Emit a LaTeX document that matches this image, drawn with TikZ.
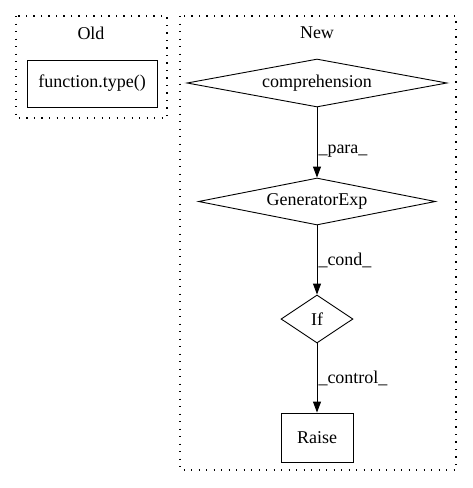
\documentclass[tikz,border=0pt]{standalone}
\usepackage{fontspec}
\setmainfont{Liberation Serif}
\usetikzlibrary{arrows.meta, shapes.geometric}

\tikzset{
    cluster/.style={line width=1.2pt, dash pattern=on 1.3pt off 6.2pt},
    decision/.style={draw, diamond, line width=0.9pt, inner sep=0pt},
    block/.style={draw, rectangle, line width=0.9pt, inner sep=0pt},
    flow/.style={line width=1pt, -{Triangle[length=11pt, width=8pt]}},
    flowlabel/.style={right, inner sep=1pt, font=\fontsize{18}{20}\selectfont}
}

\begin{document}
\begin{tikzpicture}[x=1pt, y=-1pt, font=\fontsize{18}{20}\selectfont]

    \useasboundingbox (0,0) rectangle (472,488);

    % Clusters
    \draw[cluster] (16,16) rectangle (167,118);
    \node (oldtitle) at (91,33) {Old};
    \draw[cluster] (180,16) rectangle (456,470);
    \node (newtitle) at (317,33) {New};

    % Old
    \node[block, minimum width=130pt, minimum height=47pt] (functype) at (92,83.5) {function.type()};

    % New
    \node[decision, minimum width=260pt, minimum height=48pt, aspect=5.4] (comp) at (317,83) {comprehension};
    \node[decision, minimum width=237pt, minimum height=47pt, aspect=5] (genexp) at (317,201.5) {GeneratorExp};
    \node[decision, minimum width=72pt, minimum height=48pt, aspect=1.5] (cond) at (317,319) {If};
    \node[block, minimum width=72pt, minimum height=49pt] (raise) at (317,437.5) {Raise};

    % Edges
    \draw[flow] (comp.south) -- node[flowlabel, pos=0.62] {\_para\_} (genexp.north);
    \draw[flow] (genexp.south) -- node[flowlabel, pos=0.5] {\_cond\_} (cond.north);
    \draw[flow] (cond.south) -- node[flowlabel, pos=0.5] {\_control\_} (raise.north);
\end{tikzpicture}
\end{document}
